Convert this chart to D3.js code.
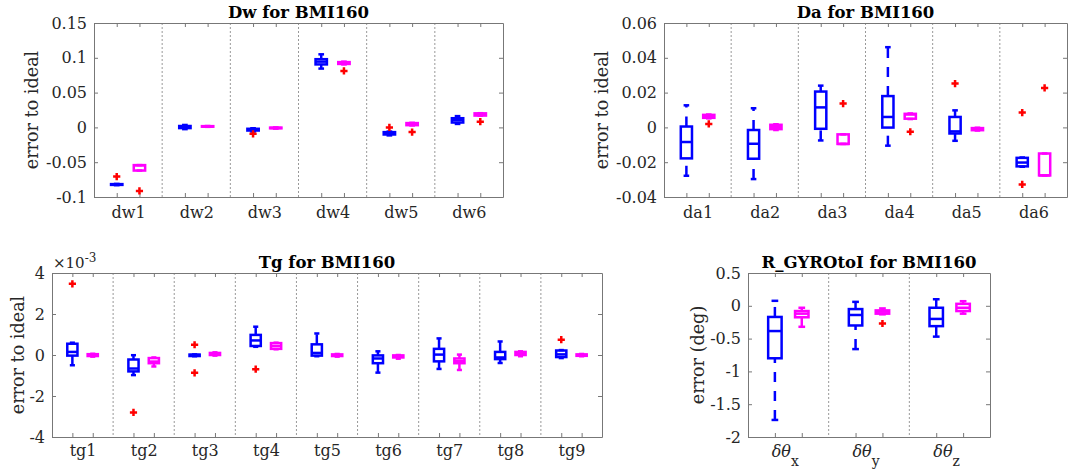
<!DOCTYPE html>
<html><head><meta charset="utf-8">
<script src="https://cdn.jsdelivr.net/npm/d3@7"></script>
<style>body{margin:0;background:#fff}svg{display:block}text{font-family:"DejaVu Serif",serif}</style>
</head><body><svg id="c" width="1068" height="469"></svg>
<script>
// ---------- DATA ----------
// stats rows: [whisker low, q1, median, q3, whisker high]
const dwLabels = ["dw1","dw2","dw3","dw4","dw5","dw6"];
const dwYTicks = [-0.1,-0.05,0,0.05,0.1,0.15];
const dwYTickLabels = ["-0.1","-0.05","0","0.05","0.1","0.15"];
const dwBlueStats = [
  [-0.0830,-0.0826,-0.0820,-0.0815,-0.0812],
  [-0.0025,-0.0010,0.0005,0.0020,0.0035],
  [-0.0060,-0.0045,-0.0030,-0.0020,-0.0012],
  [0.0845,0.0905,0.0945,0.0980,0.1050],
  [-0.0115,-0.0102,-0.0080,-0.0068,-0.0060],
  [0.0050,0.0070,0.0105,0.0132,0.0162]];
const dwBlueOutliers = [[-0.0706],[],[-0.0092],[],[0.0],[]];
const dwMagentaStats = [
  [-0.0620,-0.0620,-0.0545,-0.0542,-0.0542],
  [0.0008,0.0010,0.0014,0.0018,0.0020],
  [-0.0018,-0.0013,-0.0008,-0.0003,0.0000],
  [0.0905,0.0912,0.0925,0.0938,0.0945],
  [0.0028,0.0032,0.0048,0.0062,0.0066],
  [0.0168,0.0170,0.0190,0.0202,0.0204]];
const dwMagentaOutliers = [[-0.0912],[],[],[0.0812],[-0.0067],[0.0082]];

const daLabels = ["da1","da2","da3","da4","da5","da6"];
const daYTicks = [-0.04,-0.02,0,0.02,0.04,0.06];
const daYTickLabels = ["-0.04","-0.02","0","0.02","0.04","0.06"];
const daBlueStats = [
  [-0.0278,-0.0178,-0.0084,0.0005,0.0127],
  [-0.0297,-0.0180,-0.0094,-0.0015,0.0110],
  [-0.0075,-0.0008,0.0115,0.0206,0.0240],
  [-0.0105,-0.0001,0.0060,0.0180,0.0461],
  [-0.0077,-0.0035,-0.0023,0.0060,0.0098],
  [-0.0226,-0.0224,-0.0202,-0.0175,-0.0173]];
const daBlueOutliers = [[],[],[],[],[0.0252],[0.0085,-0.0328]];
const daMagentaStats = [
  [0.0052,0.0055,0.0065,0.0072,0.0074],
  [-0.0015,-0.0010,0.0003,0.0015,0.0018],
  [-0.0095,-0.0095,-0.0095,-0.0040,-0.0040],
  [0.0048,0.0050,0.0074,0.0078,0.0080],
  [-0.0018,-0.0016,-0.0010,-0.0004,-0.0002],
  [-0.0276,-0.0276,-0.0276,-0.0150,-0.0150]];
const daMagentaOutliers = [[0.0020],[],[0.0137],[-0.0025],[],[0.0227]];

// Tg values in units of 1e-3
const tgLabels = ["tg1","tg2","tg3","tg4","tg5","tg6","tg7","tg8","tg9"];
const tgYTicks = [-4,-2,0,2,4];
const tgYTickLabels = ["-4","-2","0","2","4"];
const tgBlueStats = [
  [-0.50,-0.03,0.15,0.55,0.60],
  [-0.98,-0.80,-0.66,-0.22,-0.01],
  [-0.06,-0.05,0.00,0.02,0.03],
  [0.40,0.44,0.71,0.98,1.38],
  [-0.06,-0.03,0.10,0.52,1.05],
  [-0.86,-0.40,-0.17,-0.02,0.18],
  [-0.68,-0.31,0.02,0.30,0.81],
  [-0.39,-0.20,-0.12,0.15,0.66],
  [-0.15,-0.10,0.03,0.22,0.24]];
const tgBlueOutliers = [[3.47],[-2.80],[0.50,-0.87],[-0.69],[],[],[],[],[0.75]];
const tgMagentaStats = [
  [-0.08,-0.05,0.00,0.04,0.06],
  [-0.56,-0.40,-0.32,-0.15,-0.12],
  [-0.03,0.00,0.05,0.10,0.13],
  [0.28,0.30,0.44,0.58,0.60],
  [-0.08,-0.05,-0.02,0.03,0.05],
  [-0.18,-0.12,-0.05,-0.02,0.00],
  [-0.73,-0.40,-0.30,-0.17,0.02],
  [-0.06,0.00,0.08,0.15,0.18],
  [-0.06,-0.04,0.00,0.03,0.05]];
const tgMagentaOutliers = [[],[],[],[],[],[],[],[],[]];

const rLabels = ["x","y","z"];
const rYTicks = [-2,-1.5,-1,-0.5,0,0.5];
const rYTickLabels = ["-2","-1.5","-1","-0.5","0","0.5"];
const rBlueStats = [
  [-1.74,-0.80,-0.385,-0.17,0.076],
  [-0.66,-0.30,-0.14,-0.05,0.06],
  [-0.47,-0.31,-0.20,-0.03,0.10]];
const rBlueOutliers = [[],[],[]];
const rMagentaStats = [
  [-0.32,-0.175,-0.12,-0.08,-0.03],
  [-0.13,-0.12,-0.09,-0.07,-0.04],
  [-0.12,-0.08,-0.03,0.03,0.07]];
const rMagentaOutliers = [[],[-0.27],[]];

// ---------- DRAW ----------
const svg = d3.select("#c");
svg.append("rect").attr("width",1068).attr("height",469).attr("fill","#fff");
const AX = "#777", TXT = "#262626";

function panel(cfg){
  const n = cfg.labels.length;
  const x = d3.scaleLinear().domain([0.5, n+0.5]).range([cfg.left, cfg.right]);
  const y = d3.scaleLinear().domain(cfg.yDomain).range([cfg.bottom, cfg.top]);
  const g = svg.append("g");
  const off = 1/6, hw = 1/12, cw = 1/24;
  const pos = [];
  cfg.labels.forEach((d,i)=>{ pos.push(i+1-off, i+1+off); });

  // separators
  g.selectAll(".sep").data(d3.range(1,n)).join("line")
    .attr("x1",d=>x(d+0.5)).attr("x2",d=>x(d+0.5))
    .attr("y1",cfg.top).attr("y2",cfg.bottom)
    .attr("stroke","#999").attr("stroke-width",1).attr("stroke-dasharray","2,2");

  // axes
  const styleAxis = sel => { sel.selectAll("path,line").attr("stroke",AX).attr("stroke-width",1);
    sel.selectAll("text").attr("fill",TXT).attr("font-size",16).attr("font-family","DejaVu Serif"); };
  g.append("g").attr("transform",`translate(${cfg.left},0)`)
    .call(d3.axisLeft(y).tickValues(cfg.yTicks).tickFormat((d,i)=>cfg.yTickLabels[i]).tickSizeInner(-4).tickSizeOuter(0).tickPadding(7))
    .call(styleAxis);
  g.append("g").attr("transform",`translate(${cfg.right},0)`)
    .call(d3.axisRight(y).tickValues(cfg.yTicks).tickFormat("").tickSizeInner(-4).tickSizeOuter(0))
    .call(styleAxis);
  g.append("g").attr("transform",`translate(0,${cfg.top})`)
    .call(d3.axisTop(x).tickValues(pos).tickFormat("").tickSizeInner(-4).tickSizeOuter(0))
    .call(styleAxis);
  const bx = g.append("g").attr("transform",`translate(0,${cfg.bottom})`)
    .call(d3.axisBottom(x).tickValues(pos).tickFormat("").tickSizeInner(-4).tickSizeOuter(0))
    .call(styleAxis);
  if (!cfg.greek) {
    g.append("g").attr("transform",`translate(0,${cfg.bottom})`)
      .call(d3.axisBottom(x).tickValues(d3.range(1,n+1)).tickFormat((d,i)=>cfg.labels[i]).tickSize(0).tickPadding(cfg.xPad))
      .call(s=>s.select(".domain").remove())
      .call(styleAxis);
  } else {
    const t = g.selectAll(".gl").data(cfg.labels).join("text")
      .attr("x",(d,i)=>x(i+1)-3).attr("y",cfg.bottom+20)
      .attr("text-anchor","middle").attr("fill",TXT).attr("font-size",16);
    t.append("tspan").attr("font-style","italic").text("δθ");
    t.append("tspan").attr("font-size",14).attr("dy",9).text(d=>d);
  }

  // boxes
  const series = [
    {stats:cfg.blue, out:cfg.blueOut, col:"#0000ff", o:-off},
    {stats:cfg.mag, out:cfg.magOut, col:"#ff00ff", o:off}];
  series.forEach(s=>{
    s.stats.forEach((st,i)=>{
      const c = i+1+s.o;
      const [lo,q1,md,q3,hi] = st;
      const bg = g.append("g");
      // whiskers (drawn from lower to upper value, dashed)
      [[lo,q1],[q3,hi]].forEach(([a,b])=>{
        if (b>a) bg.append("line").attr("x1",x(c)).attr("x2",x(c)).attr("y1",y(a)).attr("y2",y(b))
          .attr("stroke",s.col).attr("stroke-width",2.5).attr("stroke-dasharray","10,9");
      });
      [lo,hi].forEach(v=>bg.append("line").attr("x1",x(c-cw)).attr("x2",x(c+cw)).attr("y1",y(v)).attr("y2",y(v))
          .attr("stroke",s.col).attr("stroke-width",2.5));
      bg.append("rect").attr("x",x(c-hw)).attr("width",x(c+hw)-x(c-hw))
        .attr("y",y(q3)).attr("height",Math.max(0.01,y(q1)-y(q3)))
        .attr("fill","none").attr("stroke",s.col).attr("stroke-width",2.5);
      bg.append("line").attr("x1",x(c-hw)).attr("x2",x(c+hw)).attr("y1",y(md)).attr("y2",y(md))
        .attr("stroke",s.col).attr("stroke-width",2.5);
    });
  });
  series.forEach(s=>{
    s.out.forEach((arr,i)=>{
      const c = i+1+s.o;
      arr.forEach(v=>{
        const px = x(c), py = y(v), r = 3.6;
        g.append("path").attr("d",`M${px-r},${py}H${px+r}M${px},${py-r}V${py+r}`)
          .attr("stroke","#ff0000").attr("stroke-width",2.5).attr("fill","none");
      });
    });
  });

  // title
  g.append("text").attr("x",(cfg.left+cfg.right)/2).attr("y",cfg.top-5)
    .attr("text-anchor","middle").attr("font-weight","bold").attr("font-size",16.5).attr("fill","#000")
    .text(cfg.title);
  // y label
  g.append("text").attr("transform",`translate(${cfg.ylabX},${(cfg.top+cfg.bottom)/2}) rotate(-90)`)
    .attr("dy","0.35em").attr("text-anchor","middle").attr("font-size",17.6).attr("fill",TXT)
    .text(cfg.ylabel);
}

panel({left:94,right:503,top:23,bottom:197,yDomain:[-0.1,0.15],yTicks:dwYTicks,yTickLabels:dwYTickLabels,
  labels:dwLabels,blue:dwBlueStats,blueOut:dwBlueOutliers,mag:dwMagentaStats,magOut:dwMagentaOutliers,
  title:"Dw for BMI160",ylabel:"error to ideal",ylabX:32,xPad:10});
panel({left:664,right:1067,top:23,bottom:197,yDomain:[-0.04,0.06],yTicks:daYTicks,yTickLabels:daYTickLabels,
  labels:daLabels,blue:daBlueStats,blueOut:daBlueOutliers,mag:daMagentaStats,magOut:daMagentaOutliers,
  title:"Da for BMI160",ylabel:"error to ideal",ylabX:602,xPad:10});
panel({left:52,right:602,top:273,bottom:437,yDomain:[-4,4],yTicks:tgYTicks,yTickLabels:tgYTickLabels,
  labels:tgLabels,blue:tgBlueStats,blueOut:tgBlueOutliers,mag:tgMagentaStats,magOut:tgMagentaOutliers,
  title:"Tg for BMI160",ylabel:"error to ideal",ylabX:18,xPad:8});
panel({left:748,right:990,top:273,bottom:437,yDomain:[-2,0.5],yTicks:rYTicks,yTickLabels:rYTickLabels,
  labels:rLabels,blue:rBlueStats,blueOut:rBlueOutliers,mag:rMagentaStats,magOut:rMagentaOutliers,
  title:"R_GYROtoI for BMI160",ylabel:"error (deg)",ylabX:698,greek:true});

// exponent label for Tg
const ex = svg.append("text").attr("x",53).attr("y",268).attr("font-size",15).attr("fill",TXT);
ex.append("tspan").text("×10");
ex.append("tspan").attr("font-size",12).attr("dy",-6).text("-3");
</script></body></html>
